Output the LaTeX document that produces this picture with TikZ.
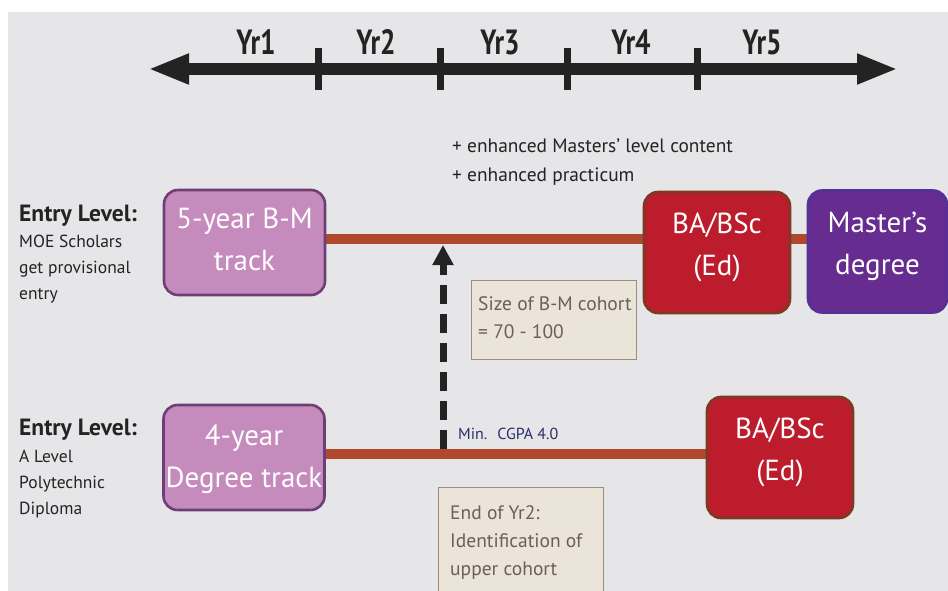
\documentclass[tikz,border=0pt]{standalone}
\usepackage{fontspec}
\setmainfont{PT Sans}
\newfontfamily\yrfont{PT Sans}[FakeStretch=0.78]
\usetikzlibrary{arrows.meta}
\pgfdeclarelayer{bottomlayer}
\pgfdeclarelayer{linelayer}
\pgfsetlayers{bottomlayer,linelayer,main}
\definecolor{bggray}{HTML}{E6E6E8}
\definecolor{pinkfill}{HTML}{C68BBD}
\definecolor{pinkline}{HTML}{6E3F74}
\definecolor{redfill}{HTML}{BC1C2C}
\definecolor{redline}{HTML}{7B3B23}
\definecolor{purfill}{HTML}{662C90}
\definecolor{purline}{HTML}{553196}
\definecolor{orangeline}{HTML}{B0482E}
\definecolor{beigefill}{HTML}{EBE4D9}
\definecolor{beigeline}{HTML}{9E8B7C}
\definecolor{beigetext}{HTML}{6B6057}
\definecolor{navy}{HTML}{2B2E6A}
\definecolor{darktext}{HTML}{232323}
\tikzset{
  yrlabel/.style={font=\yrfont\bfseries\fontsize{35}{35}\selectfont, text=darktext, inner sep=0pt},
  boxbase/.style={line width=2.6pt, rounded corners=14pt, inner sep=0pt},
  trackbox/.style={boxbase, draw=pinkline, fill=pinkfill, minimum width=161pt, minimum height=105pt},
  degbox/.style={boxbase, draw=redline, fill=redfill, minimum width=146pt, minimum height=121pt},
  masterbox/.style={boxbase, draw=purline, fill=purfill, minimum width=139pt, minimum height=122pt},
  boxtext/.style={text=white, align=center, font=\fontsize{29}{42}\selectfont, inner sep=0pt},
  notebox/.style={draw=beigeline, fill=beigefill, line width=1.2pt, anchor=north west, inner sep=0pt},
  notetext/.style={font=\fontsize{19.5}{28}\selectfont, text=beigetext, anchor=north west, align=left, inner sep=0pt},
  entryhead/.style={font=\bfseries\fontsize{23.5}{23.5}\selectfont, text=darktext, anchor=west, inner sep=0pt},
  entrysub/.style={font=\fontsize{17.5}{26}\selectfont, text=darktext, anchor=north west, align=left, inner sep=0pt},
  trackline/.style={draw=orangeline, line width=10pt},
  plaintext/.style={font=\fontsize{19.4}{29}\selectfont, text=darktext, anchor=north west, align=left, inner sep=0pt}
}
\begin{document}
\begin{tikzpicture}[x=1pt,y=-1pt]
\useasboundingbox (0,0) rectangle (948,591);
\begin{pgfonlayer}{bottomlayer}
\fill[white] (0,0) rectangle (948,591);
\fill[bggray] (8,12) rectangle (948,591);
\end{pgfonlayer}

% timeline
\coordinate (tl) at (148,69);
\coordinate (tr) at (898,69);
\draw[line width=12pt, darktext, {Triangle[length=41pt,width=28pt]}-{Triangle[length=41pt,width=28pt]}] (tl) -- (tr);
\foreach \x/\n in {318/t1,440/t2,567/t3,697/t4}{
  \coordinate (\n a) at (\x,48);
  \coordinate (\n b) at (\x,90);
  \draw[line width=7pt, darktext] (\n a) -- (\n b);
}
\node[yrlabel] (yr1) at (256,42) {Yr1};
\node[yrlabel] (yr2) at (376,42) {Yr2};
\node[yrlabel] (yr3) at (500,42) {Yr3};
\node[yrlabel] (yr4) at (631,42) {Yr4};
\node[yrlabel] (yr5) at (762,42) {Yr5};

% entry labels
\node[entryhead] (eh1) at (19,216) {Entry Level:};
\node[entrysub] (es1) at (19,235) {MOE Scholars\\get provisional\\entry};
\node[entryhead] (eh2) at (19,430) {Entry Level:};
\node[entrysub] (es2) at (19,450) {A Level\\Polytechnic\\Diploma};

% extra text
\node[plaintext] (enh) at (452,139) {+ enhanced Masters' level content\\+ enhanced practicum};

% boxes
\node[trackbox] (b1) at (244.5,242.5) {};
\node[trackbox] (b2) at (244,457.5) {};
\node[degbox] (r1) at (717,252.5) {};
\node[degbox] (r2) at (780,457.5) {};
\node[masterbox] (m1) at (877.5,251.5) {};
\node[boxtext] (b1t) at ([yshift=3.5pt]b1.center) {5-year B-M\\track};
\node[boxtext] (b2t) at ([yshift=-1.5pt]b2.center) {4-year\\Degree track};
\node[boxtext] (r1t) at ([yshift=5.5pt]r1.center) {BA/BSc\\(Ed)};
\node[boxtext] (r2t) at ([yshift=5pt]r2.center) {BA/BSc\\(Ed)};
\node[boxtext] (m1t) at ([yshift=5.5pt]m1.center) {Master's\\degree};

% track lines
\coordinate (l1) at (0,239);
\coordinate (l2) at (0,454);
\begin{pgfonlayer}{linelayer}
\draw[trackline] (b1.east |- l1) -- (r1.west |- l1);
\draw[trackline] (r1.east |- l1) -- (m1.west |- l1);
\draw[trackline] (b2.east |- l2) -- (r2.west |- l2);
\end{pgfonlayer}

% dashed arrow
\coordinate (da) at (443,449);
\coordinate (db) at (443,245);
\draw[line width=7pt, darktext, dash pattern=on 19pt off 10pt, -{Triangle[length=20pt,width=20pt]}] (da) -- (db);
\node[font=\fontsize{16}{16}\selectfont, text=navy, anchor=west, inner sep=0pt] (cgpa) at (458,434) {Min.\hspace{10pt}CGPA 4.0};

% note boxes
\node[notebox, minimum width=165pt, minimum height=79pt] (size) at (471,280) {};
\node[notetext] (sizet) at (478,296) {Size of B-M cohort\\= 70 - 100};
\node[notebox, minimum width=165pt, minimum height=120pt] (end) at (438,487) {};
\node[notetext] (endt) at (450,505) {End of Yr2:\\Identification of\\upper cohort};
\end{tikzpicture}
\end{document}
